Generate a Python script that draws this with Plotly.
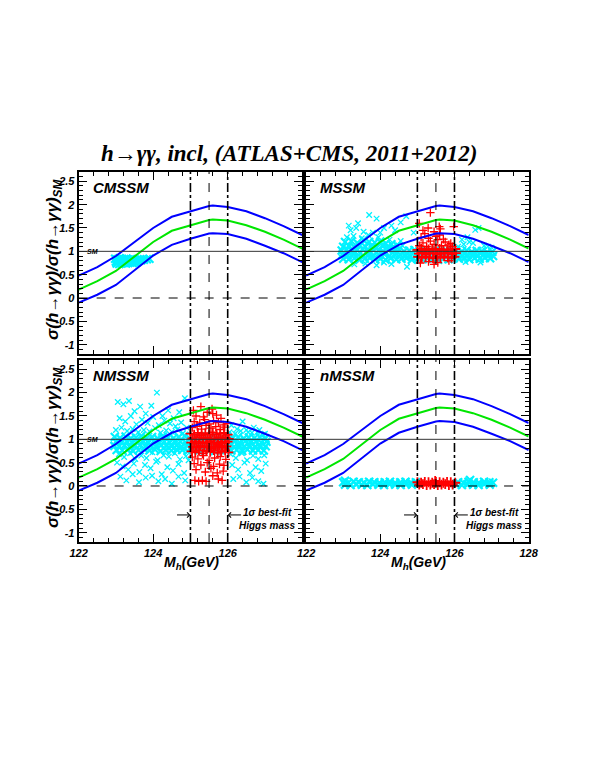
import plotly.graph_objects as go

# theory band for sigma(h->gg)/sigma_SM vs Mh (same in all panels)
mh_grid = [122.0, 122.5, 123.0, 123.5, 124.0, 124.5, 125.0, 125.5, 125.6, 126.0, 126.5, 127.0, 127.5, 128.0]
ratio_upper = [0.48, 0.66, 0.90, 1.20, 1.50, 1.74, 1.86, 1.97, 1.98, 1.95, 1.86, 1.71, 1.54, 1.35]
ratio_central = [0.18, 0.36, 0.58, 0.90, 1.20, 1.44, 1.56, 1.67, 1.68, 1.66, 1.56, 1.42, 1.25, 1.06]
ratio_lower = [-0.10, 0.07, 0.28, 0.60, 0.91, 1.14, 1.27, 1.38, 1.39, 1.37, 1.27, 1.12, 0.96, 0.77]

# best-fit Higgs mass window
mh_low, mh_best, mh_high = 125.0, 125.5, 126.0
sm_ratio = 1.0

x_ticks = [122, 124, 126, 128]
y_ticks = [-1, -0.5, 0, 0.5, 1, 1.5, 2, 2.5]
y_tick_text = ["-1", "-0.5", "0", "0.5", "1", "1.5", "2", "2.5"]

# --- CMSSM points (all below the mass window)
cmssm_core_x = [122.98, 123.04, 123.10, 123.16, 123.22, 123.28, 123.34, 123.40, 123.46, 123.52, 123.58, 123.64,
                123.00, 123.07, 123.13, 123.19, 123.25, 123.31, 123.37, 123.43, 123.49, 123.55, 123.61, 123.68,
                123.75, 123.83, 123.90,
                123.02, 123.09, 123.15, 123.21, 123.27, 123.33, 123.39, 123.45, 123.51, 123.57]
cmssm_core_y = [0.84, 0.83, 0.85, 0.84, 0.83, 0.84, 0.82, 0.83, 0.84, 0.82, 0.83, 0.82,
                0.78, 0.79, 0.78, 0.77, 0.79, 0.78, 0.79, 0.80, 0.79, 0.80, 0.81, 0.81,
                0.82, 0.83, 0.84,
                0.74, 0.73, 0.74, 0.75, 0.74, 0.75, 0.76, 0.75, 0.76, 0.77]

# --- MSSM points
mssm_core_x = [122.96, 123.10, 123.25, 123.38, 123.52, 123.66, 123.80, 123.95, 124.08, 124.22,
               124.37, 124.50, 124.64, 124.78, 124.92, 125.06, 125.20, 125.35, 125.50, 125.63,
               125.77, 125.90, 126.05, 126.20, 126.33, 126.47, 126.60, 126.74, 126.88, 127.02,
               122.98, 123.12, 123.27, 123.41, 123.55, 123.69, 123.83, 123.97, 124.11, 124.25,
               124.40, 124.54, 124.68, 124.82, 124.96, 125.10, 125.24, 125.38, 125.52, 125.66,
               125.80, 125.94, 126.08, 126.22, 126.36, 126.50, 126.64, 126.78, 126.92, 127.04,
               123.00, 123.15, 123.30, 123.44, 123.58, 123.72, 123.86, 124.00, 124.14, 124.28,
               124.43, 124.57, 124.71, 124.85, 125.00, 125.14, 125.28, 125.42, 125.56, 125.70,
               125.84, 125.98, 126.12, 126.26, 126.40, 126.54, 126.68, 126.82, 126.96,
               123.00, 123.15, 123.30, 123.45, 123.60, 123.75, 123.90, 124.05, 124.20, 124.35,
               123.05, 123.22, 123.38, 123.55, 123.70, 123.85, 124.00, 124.15, 124.30, 124.45]
mssm_core_y = [1.02, 1.04, 1.00, 1.03, 1.05, 1.01, 1.04, 1.02, 1.00, 1.03,
               1.01, 1.04, 1.00, 1.02, 1.03, 1.00, 1.02, 1.01, 1.03, 1.00,
               1.02, 1.01, 1.03, 1.00, 1.02, 0.99, 1.01, 1.00, 0.98, 0.99,
               0.93, 0.91, 0.94, 0.92, 0.90, 0.93, 0.91, 0.92, 0.94, 0.90,
               0.92, 0.93, 0.91, 0.90, 0.92, 0.93, 0.91, 0.92, 0.90, 0.93,
               0.92, 0.91, 0.93, 0.90, 0.92, 0.94, 0.91, 0.93, 0.92, 0.90,
               0.84, 0.83, 0.85, 0.82, 0.84, 0.86, 0.83, 0.84, 0.82, 0.85,
               0.83, 0.84, 0.86, 0.82, 0.84, 0.83, 0.85, 0.84, 0.82, 0.84,
               0.83, 0.85, 0.84, 0.86, 0.83, 0.85, 0.84, 0.86, 0.85,
               1.10, 1.12, 1.09, 1.13, 1.10, 1.11, 1.08, 1.12, 1.10, 1.09,
               1.20, 1.22, 1.18, 1.24, 1.20, 1.19, 1.21, 1.17, 1.15, 1.13]
mssm_scatter_x = [124.60, 123.10, 123.28, 123.50, 123.68, 123.95, 124.25, 124.55,
                  123.20, 123.40, 123.55, 123.70, 123.90, 124.10, 124.30, 124.55, 124.70, 123.35,
                  123.80, 124.40, 124.90, 123.15, 124.00,
                  123.30, 123.90, 124.30, 124.72, 124.10, 126.30, 126.70, 123.60,
                  126.10, 126.25, 126.40, 126.56, 126.65, 126.80, 126.90, 126.20, 126.50, 127.00, 126.35]
mssm_scatter_y = [1.12, 1.30, 1.33, 1.28, 1.35, 1.30, 1.25, 1.22,
                  1.45, 1.60, 1.42, 1.78, 1.70, 1.50, 1.55, 1.62, 1.75, 1.50,
                  1.40, 1.45, 1.40, 1.55, 1.40,
                  0.72, 0.70, 0.73, 0.67, 0.76, 0.77, 0.76, 0.74,
                  1.10, 1.15, 1.20, 1.46, 1.50, 1.12, 1.10, 1.25, 1.18, 1.08, 1.30]
mssm_red_core_x = [125.00, 125.10, 125.20, 125.30, 125.40, 125.50, 125.60, 125.70, 125.80, 125.90, 126.02,
                   125.04, 125.14, 125.24, 125.34, 125.44, 125.54, 125.64, 125.74, 125.84, 125.94, 126.04,
                   125.02, 125.12, 125.22, 125.32, 125.42, 125.52, 125.62, 125.72, 125.82, 125.92, 126.00]
mssm_red_core_y = [1.03, 1.05, 1.02, 1.04, 1.06, 1.03, 1.05, 1.02, 1.04, 1.03, 1.05,
                   0.95, 0.97, 0.94, 0.96, 0.95, 0.93, 0.96, 0.95, 0.97, 0.94, 0.96,
                   0.88, 0.86, 0.89, 0.87, 0.85, 0.88, 0.86, 0.89, 0.87, 0.86, 0.88]
mssm_red_scatter_x = [125.05, 125.15, 125.25, 125.35, 125.45, 125.55, 125.65, 125.75, 125.85, 125.95,
                      125.10, 125.30, 125.50, 125.70, 125.90, 125.20, 125.60,
                      125.35, 125.05, 125.29, 125.59, 125.98, 125.15, 125.45, 125.62,
                      125.08, 125.30, 125.55, 125.85, 125.45]
mssm_red_scatter_y = [1.12, 1.18, 1.10, 1.22, 1.15, 1.25, 1.12, 1.20, 1.14, 1.10,
                      1.30, 1.28, 1.32, 1.26, 1.17, 1.38, 1.35,
                      1.83, 1.60, 1.50, 1.53, 1.53, 1.45, 1.42, 1.48,
                      0.75, 0.78, 0.76, 0.80, 0.72]

# --- NMSSM points
nmssm_core_x = [122.97, 123.11, 123.26, 123.40, 123.54, 123.68, 123.83, 123.97, 124.12, 124.26,
                124.40, 124.55, 124.69, 124.84, 124.98, 125.12, 125.27, 125.41, 125.56, 125.70,
                125.85, 125.99, 126.14, 126.28, 126.43, 126.57, 126.72, 126.86, 127.01,
                123.00, 123.14, 123.29, 123.43, 123.57, 123.72, 123.86, 124.01, 124.15, 124.30,
                124.44, 124.59, 124.73, 124.88, 125.02, 125.16, 125.31, 125.45, 125.60, 125.74,
                125.89, 126.03, 126.18, 126.32, 126.47, 126.61, 126.76, 126.90, 127.04,
                122.96, 123.09, 123.23, 123.37, 123.51, 123.65, 123.79, 123.93, 124.07, 124.21,
                124.35, 124.49, 124.63, 124.77, 124.91, 125.05, 125.19, 125.33, 125.47, 125.61,
                125.75, 125.89, 126.03, 126.17, 126.31, 126.45, 126.59, 126.73, 126.87, 127.02,
                123.02, 123.17, 123.32, 123.46, 123.61, 123.76, 123.90, 124.05, 124.20, 124.34,
                124.49, 124.63, 124.78, 124.93, 125.07, 125.22, 125.36, 125.51, 125.66, 125.80,
                125.95, 126.10, 126.24, 126.39, 126.53, 126.68, 126.82, 126.97]
nmssm_core_y = [1.05, 1.03, 1.06, 1.02, 1.04, 1.07, 1.03, 1.05, 1.02, 1.06,
                1.04, 1.03, 1.05, 1.07, 1.02, 1.04, 1.06, 1.03, 1.05, 1.02,
                1.04, 1.06, 1.03, 1.05, 1.02, 1.04, 1.03, 1.05, 1.02,
                0.95, 0.94, 0.96, 0.93, 0.95, 0.97, 0.94, 0.96, 0.93, 0.95,
                0.94, 0.96, 0.95, 0.93, 0.95, 0.97, 0.94, 0.96, 0.93, 0.95,
                0.94, 0.96, 0.95, 0.93, 0.96, 0.94, 0.95, 0.93, 0.95,
                0.86, 0.85, 0.87, 0.84, 0.86, 0.88, 0.85, 0.86, 0.84, 0.87,
                0.86, 0.85, 0.87, 0.84, 0.86, 0.85, 0.87, 0.86, 0.84, 0.86,
                0.87, 0.85, 0.86, 0.84, 0.87, 0.85, 0.86, 0.84, 0.86, 0.85,
                0.77, 0.76, 0.78, 0.75, 0.77, 0.79, 0.76, 0.78, 0.75, 0.77,
                0.76, 0.78, 0.77, 0.75, 0.77, 0.76, 0.78, 0.77, 0.75, 0.77,
                0.78, 0.76, 0.77, 0.75, 0.78, 0.76, 0.77, 0.76]
nmssm_scatter_x = [123.05, 123.20, 123.35, 123.50, 123.65, 123.80, 123.95, 124.10, 124.25, 124.40,
                   124.55, 124.70, 124.85,
                   123.10, 123.25, 123.40, 123.55, 123.70, 123.85, 124.00, 124.15, 124.30, 124.45,
                   124.60, 124.75, 124.90,
                   123.00, 123.15, 123.30, 123.45, 123.60, 123.75, 123.90, 124.05, 124.20, 124.35,
                   124.50, 124.65, 124.80,
                   123.08, 123.22, 123.38, 123.52, 123.68, 123.82, 123.98, 124.12, 124.28, 124.42,
                   124.58, 124.72, 124.88,
                   123.03, 123.18, 123.33, 123.48, 123.63, 123.78, 123.93, 124.08, 124.23, 124.38,
                   124.53, 124.68, 124.83, 124.95,
                   123.12, 123.28, 123.45, 123.62, 123.80, 123.97, 124.14, 124.32, 124.50, 124.68,
                   124.86,
                   126.10, 126.25, 126.40, 126.55, 126.70, 126.85, 127.00,
                   126.05, 126.20, 126.35, 126.50, 126.65, 126.80, 126.95,
                   126.08, 126.22, 126.38, 126.52, 126.68, 126.82, 126.98,
                   126.12, 126.28, 126.45, 126.60, 126.75, 126.90, 127.02,
                   126.15, 126.32, 126.50, 126.66, 126.82, 126.96]
nmssm_scatter_y = [1.80, 1.75, 1.82, 1.60, 1.70, 1.55, 1.72, 2.00, 1.50, 1.62,
                   1.45, 1.58, 1.88,
                   1.45, 1.38, 1.50, 1.32, 1.42, 1.35, 1.48, 1.30, 1.40, 1.34,
                   1.28, 1.36, 1.25,
                   1.20, 1.25, 1.18, 1.22, 1.15, 1.20, 1.17, 1.24, 1.14, 1.19,
                   1.16, 1.21, 1.13,
                   0.68, 0.62, 0.70, 0.58, 0.65, 0.60, 0.72, 0.55, 0.66, 0.63,
                   0.70, 0.57, 0.64,
                   0.50, 0.42, 0.35, 0.48, 0.30, 0.45, 0.38, 0.52, 0.25, 0.40,
                   0.33, 0.47, 0.28, 0.55,
                   0.20, 0.12, 0.25, 0.08, 0.18, 0.22, 0.10, 0.15, 0.05, 0.20,
                   0.12,
                   1.30, 1.22, 1.38, 1.15, 1.25, 1.20, 1.12,
                   1.15, 1.12, 1.18, 1.20, 1.14, 1.16, 1.10,
                   0.68, 0.60, 0.70, 0.55, 0.65, 0.58, 0.66,
                   0.45, 0.35, 0.50, 0.28, 0.40, 0.32, 0.48,
                   0.15, 0.20, 0.08, 0.18, 0.10, 0.05]
nmssm_red_core_x = [125.00, 125.10, 125.20, 125.30, 125.40, 125.50, 125.60, 125.70, 125.80, 125.90, 126.00,
                    125.05, 125.15, 125.25, 125.35, 125.45, 125.55, 125.65, 125.75, 125.85, 125.95, 126.03,
                    125.02, 125.12, 125.22, 125.32, 125.42, 125.52, 125.62, 125.72, 125.82, 125.92, 126.00,
                    125.07, 125.17, 125.27, 125.37, 125.47, 125.57, 125.67, 125.77, 125.87, 125.97,
                    125.03, 125.13, 125.23, 125.33, 125.43, 125.53, 125.63, 125.73, 125.83, 125.93, 126.02]
nmssm_red_core_y = [1.12, 1.10, 1.14, 1.09, 1.13, 1.11, 1.15, 1.10, 1.12, 1.14, 1.10,
                    1.02, 1.00, 1.04, 1.01, 1.03, 0.99, 1.02, 1.04, 1.00, 1.03, 1.01,
                    0.93, 0.95, 0.91, 0.94, 0.92, 0.95, 0.93, 0.90, 0.94, 0.92, 0.95,
                    0.84, 0.82, 0.86, 0.83, 0.85, 0.81, 0.84, 0.86, 0.82, 0.85,
                    0.74, 0.72, 0.76, 0.70, 0.75, 0.73, 0.77, 0.71, 0.74, 0.76, 0.72]
nmssm_red_scatter_x = [125.05, 125.18, 125.30, 125.42, 125.55, 125.68, 125.80, 125.92,
                       125.10, 125.25, 125.38, 125.50, 125.62, 125.75, 125.88, 126.00,
                       125.15, 125.35, 125.60, 125.82, 125.08, 125.45, 125.70, 125.28, 125.58,
                       125.05, 125.20, 125.35, 125.50, 125.65, 125.80, 125.95,
                       125.10, 125.28, 125.45, 125.62, 125.78, 125.90,
                       125.15, 125.40, 125.55, 125.72, 125.88,
                       125.12, 125.22, 125.32, 125.42, 125.75, 125.85, 125.60]
nmssm_red_scatter_y = [1.25, 1.28, 1.22, 1.30, 1.24, 1.27, 1.21, 1.26,
                       1.38, 1.35, 1.42, 1.33, 1.40, 1.36, 1.31, 1.34,
                       1.50, 1.48, 1.55, 1.45, 1.62, 1.58, 1.52, 1.70, 1.65,
                       0.62, 0.58, 0.65, 0.55, 0.60, 0.63, 0.57,
                       0.48, 0.45, 0.50, 0.42, 0.47, 0.44,
                       0.35, 0.30, 0.38, 0.28, 0.32,
                       0.12, 0.10, 0.12, 0.10, 0.15, 0.12, 0.22]

# --- nMSSM points (all close to zero)
nmssm2_core_x = [123.00, 123.14, 123.28, 123.42, 123.56, 123.70, 123.84, 123.98, 124.12, 124.26,
                 124.40, 124.54, 124.68, 124.82, 124.96, 126.10, 126.24, 126.38, 126.52, 126.66,
                 126.80, 126.94, 127.04,
                 123.05, 123.20, 123.35, 123.50, 123.65, 123.80, 123.95, 124.10, 124.25, 124.40,
                 124.55, 124.70, 124.85, 126.05, 126.20, 126.35, 126.50, 126.65, 126.80, 126.95,
                 126.42, 123.05]
nmssm2_core_y = [0.08, 0.07, 0.09, 0.08, 0.07, 0.09, 0.08, 0.07, 0.08, 0.09,
                 0.07, 0.08, 0.09, 0.07, 0.08, 0.08, 0.07, 0.09, 0.08, 0.07,
                 0.09, 0.08, 0.07,
                 0.03, 0.02, 0.04, 0.03, 0.02, 0.04, 0.03, 0.02, 0.04, 0.03,
                 0.02, 0.04, 0.03, 0.03, 0.02, 0.04, 0.03, 0.02, 0.04, 0.03,
                 0.13, 0.11]
nmssm2_red_core_x = [125.00, 125.10, 125.20, 125.30, 125.40, 125.50, 125.60, 125.70, 125.80, 125.90, 126.02,
                     125.05, 125.15, 125.25, 125.35, 125.45, 125.55, 125.65, 125.75, 125.85, 125.95,
                     125.48]
nmssm2_red_core_y = [0.08, 0.07, 0.09, 0.08, 0.07, 0.09, 0.08, 0.07, 0.09, 0.08, 0.07,
                     0.03, 0.04, 0.02, 0.03, 0.04, 0.02, 0.03, 0.04, 0.02, 0.03,
                     0.11]

# (label, cyan core, cyan scattered, red core, red scattered)
panels = [
    ("CMSSM", (cmssm_core_x, cmssm_core_y), ([], []), ([], []), ([], [])),
    ("MSSM", (mssm_core_x, mssm_core_y), (mssm_scatter_x, mssm_scatter_y),
     (mssm_red_core_x, mssm_red_core_y), (mssm_red_scatter_x, mssm_red_scatter_y)),
    ("NMSSM", (nmssm_core_x, nmssm_core_y), (nmssm_scatter_x, nmssm_scatter_y),
     (nmssm_red_core_x, nmssm_red_core_y), (nmssm_red_scatter_x, nmssm_red_scatter_y)),
    ("nMSSM", (nmssm2_core_x, nmssm2_core_y), ([], []), (nmssm2_red_core_x, nmssm2_red_core_y), ([], [])),
]

x_domains = [[0.1222, 0.5144], [0.5212, 0.9117]]
y_domains = [[0.5354, 0.7743], [0.2887, 0.5276]]

CYAN = "#00f2ff"
RED = "#ff0000"
BLUE = "#0000ff"
GREEN = "#00e600"

bold_it = dict(family="Liberation Sans", color="black", weight="bold", style="italic")


def add_points(fig, pts, xa, ya, symbol, color, size, width):
    if not pts[0]:
        return
    fig.add_trace(go.Scatter(x=pts[0], y=pts[1], xaxis=xa, yaxis=ya, mode="markers", showlegend=False,
                             marker=dict(symbol=symbol, size=size, color=color,
                                         line=dict(width=width, color=color))))


fig = go.Figure()
layout_axes = {}

for i, (name, c_core, c_sc, r_core, r_sc) in enumerate(panels):
    n = i + 1
    row, col = divmod(i, 2)
    xa = "x" if n == 1 else f"x{n}"
    ya = "y" if n == 1 else f"y{n}"

    add_points(fig, c_core, xa, ya, "x-thin", CYAN, 8, 2.2)
    add_points(fig, c_sc, xa, ya, "x-thin", CYAN, 5.5, 1.3)
    add_points(fig, r_core, xa, ya, "cross-thin", RED, 7, 1.8)
    add_points(fig, r_sc, xa, ya, "cross-thin", RED, 6, 1.3)
    for vals, colr in [(ratio_upper, BLUE), (ratio_central, GREEN), (ratio_lower, BLUE)]:
        fig.add_trace(go.Scatter(x=mh_grid, y=vals, xaxis=xa, yaxis=ya, mode="lines", showlegend=False,
                                 line=dict(color=colr, width=2)))

    # mass window and reference lines
    for xv, dash, w in [(mh_low, "dashdot", 1.6), (mh_best, "dash", 1), (mh_high, "dashdot", 1.6)]:
        fig.add_shape(type="line", xref=xa, yref=f"{ya} domain", x0=xv, x1=xv, y0=0, y1=1,
                      line=dict(color="black", width=w, dash=dash))
    fig.add_shape(type="line", xref=f"{xa} domain", yref=ya, x0=0, x1=1, y0=sm_ratio, y1=sm_ratio,
                  line=dict(color="#333333", width=1))
    fig.add_shape(type="line", xref=f"{xa} domain", yref=ya, x0=0, x1=1, y0=0, y1=0,
                  line=dict(color="black", width=1, dash="dash"))

    fig.add_annotation(text=name, xref=f"{xa} domain", yref=f"{ya} domain", x=0.055, y=0.915,
                       xanchor="left", yanchor="middle", showarrow=False, font=dict(bold_it, size=15))
    if col == 0:
        fig.add_annotation(text="SM", xref=xa, yref=ya, x=122.38, y=sm_ratio, xanchor="center",
                           yanchor="middle", showarrow=False, font=dict(bold_it, size=7))
    if row == 1:
        fig.add_annotation(text="", xref=xa, yref=ya, axref=xa, ayref=ya, x=mh_low, y=-0.62,
                           ax=124.6, ay=-0.62, showarrow=True, arrowhead=4, arrowsize=1,
                           arrowwidth=1, arrowcolor="black")
        fig.add_annotation(text="", xref=xa, yref=ya, axref=xa, ayref=ya, x=mh_high, y=-0.62,
                           ax=126.4, ay=-0.62, showarrow=True, arrowhead=4, arrowsize=1,
                           arrowwidth=1, arrowcolor="black")
        fig.add_annotation(text="1σ best-fit<br>Higgs mass", xref=xa, yref=ya, x=127.07, y=-0.7,
                           xanchor="center", yanchor="middle", showarrow=False, align="center",
                           font=dict(bold_it, size=10))

    tick_font = dict(bold_it, size=11)
    x_labels = [str(t) for t in x_ticks] if col == 1 else ["122", "124", "126", ""]
    layout_axes["xaxis" if n == 1 else f"xaxis{n}"] = dict(
        domain=x_domains[col], anchor=ya, range=[122, 128], tickmode="array", tickvals=x_ticks,
        ticktext=x_labels, showticklabels=(row == 1), tickfont=tick_font,
        showgrid=False, zeroline=False, showline=True, linewidth=2, linecolor="black",
        mirror="allticks", ticks="inside", ticklen=8, tickwidth=1, tickcolor="black",
        minor=dict(ticks="inside", ticklen=4, tickmode="linear", tick0=122, dtick=0.4, tickcolor="black"))
    layout_axes["yaxis" if n == 1 else f"yaxis{n}"] = dict(
        domain=y_domains[row], anchor=xa, range=[-1.2, 2.7], tickmode="array", tickvals=y_ticks,
        ticktext=y_tick_text, showticklabels=(col == 0), tickfont=tick_font,
        showgrid=False, zeroline=False, showline=True, linewidth=2, linecolor="black",
        mirror="allticks", ticks="inside", ticklen=8, tickwidth=1, tickcolor="black",
        minor=dict(ticks="inside", ticklen=4, tickmode="linear", tick0=0, dtick=0.1, tickcolor="black"))

# axis titles
y_title = "σ(<i>h</i>→γγ)/σ(<i>h</i>→γγ)<sub>SM</sub>"
for yc in [0.6589, 0.4121]:
    fig.add_annotation(text=y_title, xref="paper", yref="paper", x=0.079, y=yc, textangle=-90,
                       xanchor="center", yanchor="middle", showarrow=False, font=dict(bold_it, size=17))
for xc in [0.3209, 0.7182]:
    fig.add_annotation(text="M<sub>h</sub>(GeV)", xref="paper", yref="paper", x=xc, y=0.2605,
                       xanchor="center", yanchor="middle", showarrow=False, font=dict(bold_it, size=14))

fig.add_annotation(text="<i>h</i>→γγ, incl, (ATLAS+CMS, 2011+2012)", xref="paper", yref="paper",
                   x=0.4915, y=0.7985, xanchor="center", yanchor="middle", showarrow=False,
                   font=dict(family="Liberation Serif", size=23, color="black", weight="bold", style="italic"))

fig.update_layout(
    width=589, height=762,
    margin=dict(l=0, r=0, t=0, b=0),
    paper_bgcolor="white", plot_bgcolor="white",
    font=dict(family="Liberation Sans", color="black"),
    showlegend=False,
    **layout_axes,
)

# drop the default page margin so the figure sits at the window corner
fig.write_html("out.html", config={"displayModeBar": False},
               post_script="document.body.style.margin='0';")
